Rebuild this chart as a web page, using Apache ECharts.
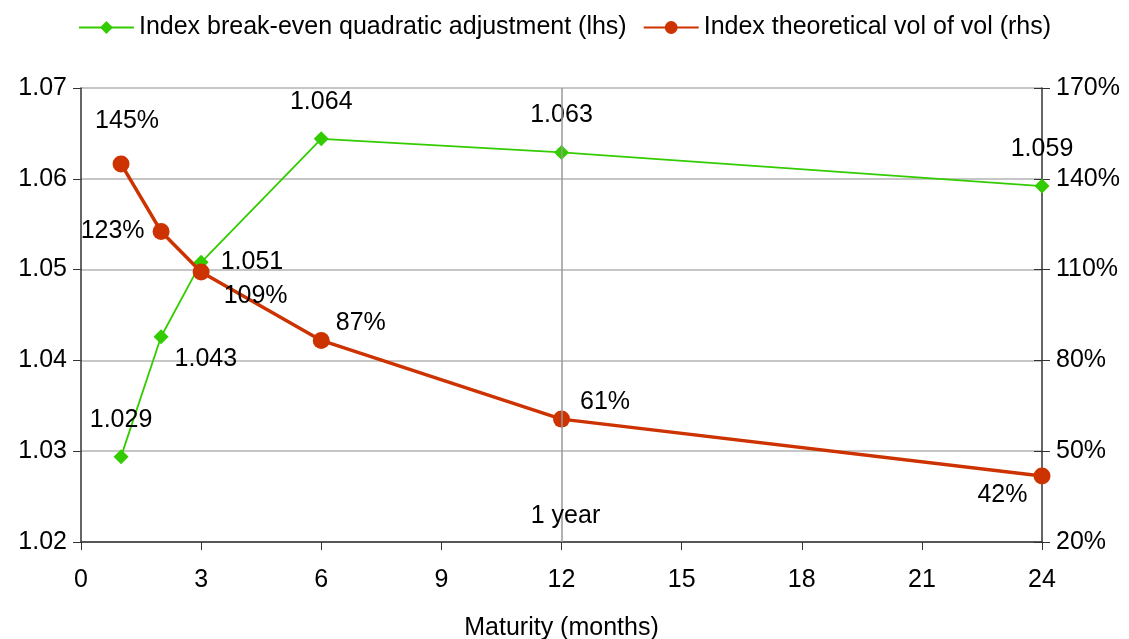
<!DOCTYPE html>
<html>
<head>
<meta charset="utf-8">
<script src="https://cdn.jsdelivr.net/npm/echarts@6/dist/echarts.min.js"></script>
<style>
html,body{margin:0;padding:0;background:#fff;}
#c{width:1129px;height:639px;}
</style>
</head>
<body>
<div id="c"></div>
<script>
const maturities = [1, 2, 3, 6, 12, 24];
const breakEven = [1.0294, 1.0426, 1.0508, 1.0644, 1.0629, 1.0592];
const volOfVol = [144.9, 122.6, 109.2, 86.6, 60.6, 41.8];
const greenLabelPos = ['top', 'bottomRight', 'right', 'top', 'top', 'top'];
const redLabelPos = ['top', 'left', 'bottomRight', 'topRight', 'topRight', 'bottomLeft'];
const seriesNames = ['Index break-even quadratic adjustment (lhs)', 'Index theoretical vol of vol (rhs)'];
const xTitle = 'Maturity (months)';
const markText = '1 year';

const FONT = 'Liberation Sans, Arial, sans-serif';
const FS = 25;
const GREEN = '#33cc00';
const RED = '#cc3300';

function labelCfg(pos) {
  const m = {
    top: {position: 'top', distance: 17},
    right: {position: 'right', distance: 12},
    left: {position: 'left', distance: 8},
    bottomRight: {position: 'right', distance: 14, offset: [0, 24]},
    topRight: {position: 'right', distance: 6, offset: [0, -17]},
    bottomLeft: {position: 'left', distance: 6, offset: [0, 19]}
  };
  return m[pos];
}

const greenData = maturities.map((m, i) => {
  const c = labelCfg(greenLabelPos[i]);
  if (i === 1) { c.distance = 6; c.offset = [0, 22]; }
  return {value: [m, breakEven[i]], label: Object.assign({show: true, formatter: p => p.value[1].toFixed(3)}, c)};
});
const redData = maturities.map((m, i) => {
  const c = labelCfg(redLabelPos[i]);
  if (i === 0) { c.distance = 22; c.offset = [6, 0]; }
  if (i === 4) { c.distance = 10; }
  return {value: [m, volOfVol[i]], label: Object.assign({show: true, formatter: p => Math.round(p.value[1]) + '%'}, c)};
});

const chart = echarts.init(document.getElementById('c'));
chart.setOption({
  animation: false,
  textStyle: {fontFamily: FONT},
  legend: {
    top: 10, left: 'center',
    itemWidth: 55, itemHeight: 16, itemGap: 16,
    textStyle: {fontSize: FS, color: '#000', fontFamily: FONT},
    data: seriesNames
  },
  grid: {left: 81, right: 87, top: 88, bottom: 97, containLabel: false, outerBoundsMode: 'none'},
  xAxis: {
    type: 'value', min: 0, max: 24, interval: 3,
    name: xTitle, nameLocation: 'middle', nameGap: 74,
    nameTextStyle: {fontSize: FS, color: '#000', fontFamily: FONT},
    axisLine: {lineStyle: {color: '#333', width: 1.5}},
    axisTick: {show: true, inside: false, length: 8, lineStyle: {color: '#333'}},
    axisLabel: {fontSize: FS, color: '#000', margin: 26, fontFamily: FONT},
    splitLine: {show: false}
  },
  yAxis: [{
    type: 'value', min: 1.02, max: 1.07, interval: 0.01, position: 'left',
    axisLine: {show: true, lineStyle: {color: '#333', width: 1.5}},
    axisTick: {show: true, inside: false, length: 8, lineStyle: {color: '#333'}},
    axisLabel: {fontSize: FS, color: '#000', margin: 14, fontFamily: FONT, formatter: v => v.toFixed(2)},
    splitLine: {show: true, lineStyle: {color: '#b3b3b3', width: 1.5}}
  }, {
    type: 'value', min: 20, max: 170, interval: 30, position: 'right',
    axisLine: {show: true, lineStyle: {color: '#333', width: 1.5}},
    axisTick: {show: true, inside: false, length: 8, lineStyle: {color: '#333'}},
    axisLabel: {fontSize: FS, color: '#000', margin: 14, fontFamily: FONT, formatter: v => v + '%'},
    splitLine: {show: false}
  }, {
    type: 'value', min: 20, max: 170, interval: 30, position: 'right',
    axisLine: {show: false},
    axisTick: {show: true, inside: true, length: 8, lineStyle: {color: '#333'}},
    axisLabel: {show: false},
    splitLine: {show: false}
  }],
  series: [{
    name: seriesNames[0], type: 'line', yAxisIndex: 0, data: greenData,
    symbol: 'diamond', symbolSize: 15,
    lineStyle: {color: GREEN, width: 1.8}, itemStyle: {color: GREEN},
    label: {fontSize: FS, color: '#000', fontFamily: FONT},
    z: 3,
    markLine: {
      silent: true, symbol: 'none',
      lineStyle: {color: '#999', width: 1.5, type: 'solid'},
      label: {show: false},
      data: [{xAxis: maturities[4]}]
    },
    markPoint: {
      silent: true, symbol: 'circle', symbolSize: 0,
      label: {show: true, formatter: markText, fontSize: FS, color: '#000', fontFamily: FONT, position: 'inside', offset: [4, 0]},
      data: [{coord: [maturities[4], 1.0228]}]
    }
  }, {
    name: seriesNames[1], type: 'line', yAxisIndex: 1, data: redData,
    symbol: 'circle', symbolSize: 17,
    lineStyle: {color: RED, width: 3.5}, itemStyle: {color: RED},
    label: {fontSize: FS, color: '#000', fontFamily: FONT},
    z: 4
  }]
});
</script>
</body>
</html>
